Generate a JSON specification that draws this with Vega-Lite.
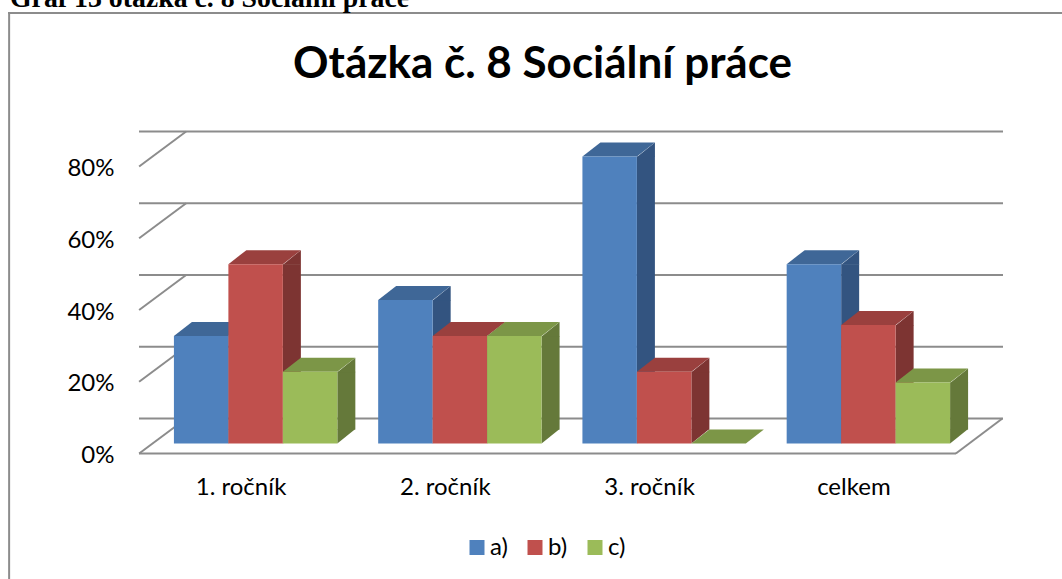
{"$schema":"https://vega.github.io/schema/vega-lite/v6.json","width":817,"height":287,"autosize":{"type":"none"},"padding":{"left":139,"top":166.5,"right":106,"bottom":125.5},"background":"white","config":{"view":{"stroke":null},"font":"Lato"},"title":{"text":"Otázka č. 8 Sociální práce","font":"Lato","fontSize":44,"fontWeight":"bold","color":"#000000","anchor":"middle","frame":"group","dx":-5,"offset":-137,"baseline":"alphabetic"},"datasets":{"bars":[{"rocnik":"1. ročník","moznost":"a)","podil":0.3},{"rocnik":"1. ročník","moznost":"b)","podil":0.5},{"rocnik":"1. ročník","moznost":"c)","podil":0.2},{"rocnik":"2. ročník","moznost":"a)","podil":0.4},{"rocnik":"2. ročník","moznost":"b)","podil":0.3},{"rocnik":"2. ročník","moznost":"c)","podil":0.3},{"rocnik":"3. ročník","moznost":"a)","podil":0.8},{"rocnik":"3. ročník","moznost":"b)","podil":0.2},{"rocnik":"3. ročník","moznost":"c)","podil":0},{"rocnik":"celkem","moznost":"a)","podil":0.5},{"rocnik":"celkem","moznost":"b)","podil":0.33},{"rocnik":"celkem","moznost":"c)","podil":0.17}],"ticks":[{"tick":0},{"tick":0.2},{"tick":0.4},{"tick":0.6},{"tick":0.8}],"frame":[{"edge":"frame"}]},"layer":[{"data":{"name":"frame"},"mark":{"type":"rule","color":"#8c8c8c","strokeWidth":2,"yOffset":-153.5,"y2Offset":-153.5,"xOffset":-233,"x2Offset":300},"encoding":{"x":{"datum":"1. ročník"},"x2":{"datum":"celkem"},"y":{"datum":0.8}}},{"data":{"name":"frame"},"mark":{"type":"rule","color":"#8c8c8c","strokeWidth":2,"xOffset":-232,"x2Offset":-232,"yOffset":-154.5,"y2Offset":130},"encoding":{"x":{"datum":"1. ročník"},"y":{"datum":0.8},"y2":{"datum":0}}},{"data":{"values":[{"note":"Graf 13 otázka č. 8 Sociální práce"}]},"mark":{"type":"text","align":"left","baseline":"alphabetic","font":"Liberation Serif","fontWeight":"bold","fontSize":27.8,"color":"#000000","dx":-129,"dy":-160},"encoding":{"x":{"value":0},"y":{"value":0},"text":{"field":"note"}}},{"data":{"name":"ticks"},"mark":{"type":"rule","color":"#8c8c8c","strokeWidth":2,"xOffset":47,"x2Offset":47,"yOffset":-35},"encoding":{"y":{"field":"tick","type":"quantitative","scale":{"domain":[0,0.8],"nice":false},"axis":{"values":[0,0.2,0.4,0.6,0.8],"format":".0%","title":null,"domain":false,"ticks":false,"grid":false,"labelFontSize":24,"labelColor":"#000000","labelPadding":25,"labelOffset":2,"labelFont":"Lato"}}}},{"data":{"name":"ticks"},"mark":{"type":"point","filled":false,"opacity":1,"size":4,"color":"#8c8c8c","strokeWidth":2,"shape":"M-102,0 L-55,-35"},"encoding":{"x":{"datum":"1. ročník"},"y":{"field":"tick","type":"quantitative"}}},{"data":{"values":[{"tick":0}]},"layer":[{"mark":{"type":"rule","color":"#8c8c8c","strokeWidth":2},"encoding":{"y":{"field":"tick","type":"quantitative"}}},{"mark":{"type":"point","filled":false,"opacity":1,"size":4,"color":"#8c8c8c","strokeWidth":2,"shape":"M102,0 L148.5,-35"},"encoding":{"x":{"datum":"celkem"},"y":{"field":"tick","type":"quantitative"}}}]},{"data":{"name":"bars"},"transform":[{"filter":"datum.podil > 0"}],"mark":{"type":"bar","width":18,"yOffset":-10,"y2Offset":-24},"encoding":{"x":{"field":"rocnik","type":"nominal"},"xOffset":{"field":"moznost","type":"nominal","scale":{"range":[50.75,214.15]}},"y":{"field":"podil","type":"quantitative"},"y2":{"datum":0},"color":{"field":"moznost","type":"nominal","scale":{"domain":["a)","b)","c)"],"range":["#335480","#7D3432","#65793A"]},"legend":null}}},{"data":{"name":"bars"},"transform":[{"filter":"datum.podil > 0"}],"mark":{"type":"point","filled":true,"opacity":1,"size":4,"strokeWidth":0,"shape":"M41.75,-9.5 L59.75,-24 L59.75,-9.5 Z"},"encoding":{"x":{"field":"rocnik","type":"nominal"},"xOffset":{"field":"moznost","type":"nominal"},"y":{"field":"podil","type":"quantitative"},"color":{"field":"moznost","type":"nominal","scale":{"domain":["a)","b)","c)"],"range":["#335480","#7D3432","#65793A"]},"legend":null}}},{"data":{"name":"bars"},"transform":[{"filter":"datum.podil > 0"}],"mark":{"type":"point","filled":true,"opacity":1,"size":4,"strokeWidth":0,"shape":"M41.75,-10 L59.75,-24.5 L41.75,-24.5 Z"},"encoding":{"x":{"field":"rocnik","type":"nominal"},"xOffset":{"field":"moznost","type":"nominal"},"y":{"datum":0},"color":{"field":"moznost","type":"nominal","scale":{"domain":["a)","b)","c)"],"range":["#335480","#7D3432","#65793A"]},"legend":null}}},{"data":{"name":"bars"},"mark":{"type":"point","filled":true,"opacity":1,"size":4,"strokeWidth":0,"shape":"M-12.75,-10 L41.75,-10 L59.75,-24 L5.25,-24 Z"},"encoding":{"x":{"field":"rocnik","type":"nominal"},"xOffset":{"field":"moznost","type":"nominal"},"y":{"field":"podil","type":"quantitative"},"color":{"field":"moznost","type":"nominal","scale":{"domain":["a)","b)","c)"],"range":["#3F6797","#9A403E","#7C9647"]},"legend":null}}},{"data":{"name":"bars"},"transform":[{"filter":"datum.podil > 0"}],"mark":{"type":"bar","yOffset":-10,"y2Offset":-10},"encoding":{"x":{"field":"rocnik","type":"nominal","scale":{"domain":["1. ročník","2. ročník","3. ročník","celkem"],"paddingInner":0.2,"paddingOuter":0.1},"axis":{"title":null,"domain":false,"ticks":false,"labelAngle":0,"labelAlign":"center","labelFontSize":24,"labelColor":"#000000","labelPadding":34,"labelFont":"Lato"}},"xOffset":{"field":"moznost","type":"nominal","scale":{"range":[14.5,177.9]}},"y":{"field":"podil","type":"quantitative"},"y2":{"datum":0},"color":{"field":"moznost","type":"nominal","scale":{"domain":["a)","b)","c)"],"range":["#4F81BD","#C0504D","#9BBB59"]},"legend":{"title":null,"orient":"none","legendX":326,"legendY":369,"direction":"horizontal","symbolType":"square","symbolSize":225,"symbolStrokeWidth":0,"labelFontSize":24,"labelColor":"#000000","labelFont":"Lato","columnPadding":15,"labelOffset":1}}}}],"resolve":{"scale":{"color":"independent","xOffset":"independent"}}}
